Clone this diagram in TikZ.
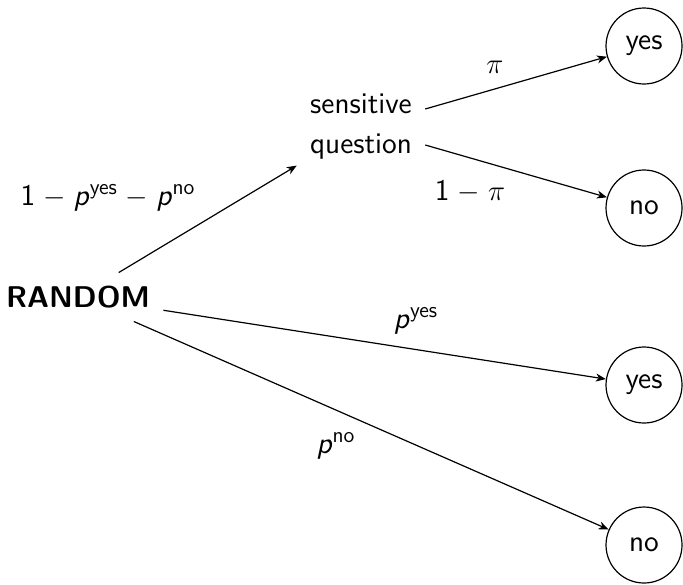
\documentclass[tikz,border=0pt]{standalone}
\usepackage{amsmath}
\usetikzlibrary{arrows.meta}
\renewcommand{\familydefault}{\sfdefault}
\newcommand{\pvar}{\textsf{\textit{p}}}
\newcommand{\supx}[1]{\mbox{\fontsize{11}{13}\selectfont #1}}
\begin{document}
\begin{tikzpicture}[x=0.5pt,y=-0.5pt,
  base/.style={font=\fontsize{15}{20}\selectfont},
  txt/.style={base,inner sep=6.5pt},
  outc/.style={base,circle,draw,line width=0.6pt,minimum size=38pt,inner sep=0pt},
  lbl/.style={base,inner sep=0pt,anchor=base},
  arr/.style={-{Stealth[length=5pt,width=4pt,inset=1.5pt]},line width=0.6pt}]
\useasboundingbox (0,0) rectangle (683,584);
\node[txt,font=\fontsize{15}{20}\selectfont\bfseries] (random) at (78,297) {RANDOM};
\node[txt,align=center] (sq) at (361,127) {sensitive\\question};
\node[outc] (y1) at (644,46) {yes};
\node[outc] (n1) at (644,208) {no};
\node[outc] (y2) at (644,385) {yes};
\node[outc] (n2) at (644,545) {no};
\draw[arr] (random) -- (sq);
\draw[arr] ([yshift=9pt]sq.east) -- (y1);
\draw[arr] ([yshift=-9pt]sq.east) -- (n1);
\draw[arr] (random) -- (y2);
\draw[arr] (random) -- (n2);
\node[lbl] (l1) at (108,205) {$\medmuskip=5mu \textsf{1} - \pvar^{\supx{yes}} - \pvar^{\supx{no}}$};
\node[lbl] (l2) at (495,73) {$\pi$};
\node[lbl] (l3) at (470,200) {$\medmuskip=5mu \textsf{1} - \pi$};
\node[lbl] (l4) at (416,328) {$\pvar^{\supx{yes}}$};
\node[lbl] (l5) at (336,453) {$\pvar^{\supx{no}}$};
\end{tikzpicture}
\end{document}
